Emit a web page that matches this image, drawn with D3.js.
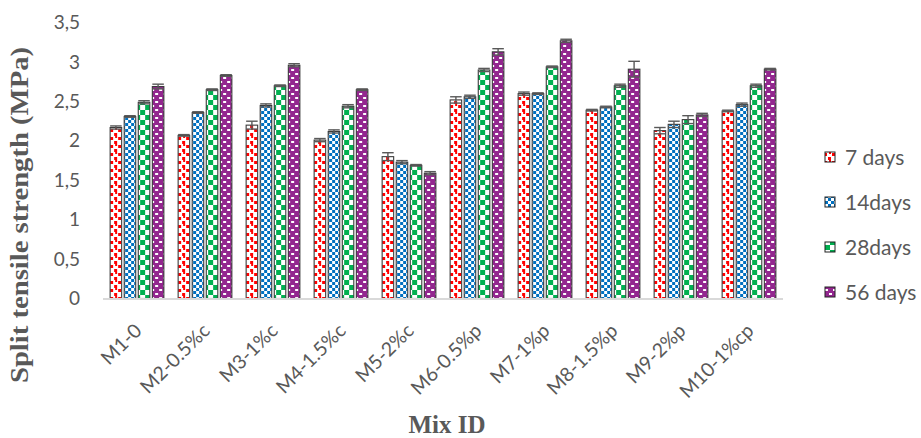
<!DOCTYPE html>
<html><head><meta charset="utf-8">
<script src="https://cdn.jsdelivr.net/npm/d3@7"></script>
<style>body{margin:0;background:#fff;}svg{display:block;}</style>
</head><body>
<script>
const categories = ["M1-0","M2-0.5%c","M3-1%c","M4-1.5%c","M5-2%c","M6-0.5%p","M7-1%p","M8-1.5%p","M9-2%p","M10-1%cp"];
const seriesNames = ["7 days","14days","28days","56 days"];
const days7  = [2.17,2.07,2.20,2.01,1.80,2.52,2.60,2.39,2.13,2.38];
const days14 = [2.31,2.36,2.45,2.12,1.73,2.56,2.60,2.43,2.21,2.46];
const days28 = [2.49,2.65,2.70,2.44,1.69,2.90,2.94,2.70,2.27,2.70];
const days56 = [2.69,2.83,2.96,2.65,1.59,3.13,3.27,2.91,2.33,2.91];
const err7  = [0.02,0.01,0.05,0.02,0.05,0.04,0.02,0.01,0.04,0.01];
const err14 = [0.01,0.01,0.02,0.02,0.02,0.02,0.01,0.01,0.04,0.02];
const err28 = [0.02,0.01,0.01,0.02,0.01,0.02,0.01,0.02,0.05,0.02];
const err56 = [0.03,0.01,0.02,0.01,0.02,0.04,0.02,0.10,0.02,0.01];
const yTicks = [0,0.5,1,1.5,2,2.5,3,3.5];

const values = [days7,days14,days28,days56];
const errors = [err7,err14,err28,err56];
const W=921,H=438;
const svg=d3.select("body").append("svg").attr("width",W).attr("height",H);
const defs=svg.append("defs");
const colors=["#ff0000","#0070c0","#00b050","#93278f"];

// patterns
function pat(id,size,bg){const p=defs.append("pattern").attr("id",id).attr("patternUnits","userSpaceOnUse").attr("width",size).attr("height",size);
 p.append("rect").attr("width",size).attr("height",size).attr("fill",bg);return p;}
let p0=pat("p0",8,"#fff");
[[0,1,3,3],[4,5,3,3],[5,0,2,2]].forEach(r=>p0.append("rect").attr("x",r[0]).attr("y",r[1]).attr("width",r[2]).attr("height",r[3]).attr("fill",colors[0]));
let p1=pat("p1",6,"#fff");
[[0,0,3,3],[3,3,3,3]].forEach(r=>p1.append("rect").attr("x",r[0]).attr("y",r[1]).attr("width",r[2]).attr("height",r[3]).attr("fill",colors[1]));
let p2=pat("p2",10,"#fff");
[[0,0,5,5],[5,5,5,5]].forEach(r=>p2.append("rect").attr("x",r[0]).attr("y",r[1]).attr("width",r[2]).attr("height",r[3]).attr("fill",colors[2]));
let p3=pat("p3",8,colors[3]);
[[1,1,3,2],[5,5,3,2]].forEach(r=>p3.append("rect").attr("x",r[0]).attr("y",r[1]).attr("width",r[2]).attr("height",r[3]).attr("fill","#fff"));

const x0=d3.scaleBand().domain(categories).range([103,783]).paddingInner(0.21).paddingOuter(0.105);
const x1=d3.scaleBand().domain(seriesNames).range([0,x0.bandwidth()]).paddingInner(0.18).paddingOuter(0);
const y=d3.scaleLinear().domain([0,3.5]).range([298.5,22.7]);

const tickFont="Lato";
// y axis labels
const yAxis=d3.axisLeft(y).tickValues(yTicks).tickSize(0).tickPadding(0).tickFormat(d=>String(d).replace(".",","));
const yg=svg.append("g").attr("transform","translate(80,0)").call(yAxis);
yg.select(".domain").remove();
yg.selectAll("text").attr("font-family",tickFont).attr("font-size",19).attr("fill","#595959");

// bars
const groups=svg.append("g").selectAll("g").data(categories).join("g").attr("transform",d=>`translate(${x0(d)},0)`);
seriesNames.forEach((s,si)=>{
  groups.append("rect")
   .attr("x",x1(s)).attr("width",x1.bandwidth())
   .attr("y",(d,i)=>y(values[si][i])).attr("height",(d,i)=>y(0)-y(values[si][i]))
   .attr("fill",`url(#p${si})`).attr("stroke","#3a3a3a").attr("stroke-width",1.1);
  // error bars
  const eg=groups.append("g").attr("stroke","#595959").attr("stroke-width",1.4);
  const cx=x1(s)+x1.bandwidth()/2, hw=x1.bandwidth()/2;
  eg.append("line").attr("x1",cx).attr("x2",cx).attr("y1",(d,i)=>y(values[si][i]+errors[si][i])).attr("y2",(d,i)=>y(values[si][i]-errors[si][i]));
  eg.append("line").attr("x1",cx-hw).attr("x2",cx+hw).attr("y1",(d,i)=>y(values[si][i]+errors[si][i])).attr("y2",(d,i)=>y(values[si][i]+errors[si][i]));
  eg.append("line").attr("x1",cx-hw).attr("x2",cx+hw).attr("y1",(d,i)=>y(values[si][i]-errors[si][i])).attr("y2",(d,i)=>y(values[si][i]-errors[si][i]));
});

// x axis
const xAxis=d3.axisBottom(x0).tickSize(0).tickPadding(0);
const xg=svg.append("g").attr("transform","translate(0,299)").call(xAxis);
xg.select(".domain").attr("stroke","#d9d9d9").attr("stroke-width",2).attr("d","M103,0H783");
xg.selectAll(".tick text").attr("font-family",tickFont).attr("font-size",19.5).attr("fill","#595959")
  .attr("text-anchor","end").attr("dy",0).attr("y",0).attr("transform","translate(6,33) rotate(-45)");

// legend
const lg=svg.append("g");
seriesNames.forEach((s,i)=>{
  const yy=157+45*i;
  lg.append("rect").attr("x",825).attr("y",yy-5).attr("width",10).attr("height",10).attr("fill",`url(#p${i})`).attr("stroke","#222").attr("stroke-width",1);
  lg.append("text").attr("x",845).attr("y",yy).attr("dy","0.36em").attr("font-family",tickFont).attr("font-size",21).attr("fill","#595959").text(s);
});

// titles
svg.append("text").attr("transform","translate(28,215) rotate(-90)").attr("text-anchor","middle")
  .attr("font-family","Liberation Serif").attr("font-weight","bold").attr("font-size",25).attr("fill","#595959")
  .attr("textLength",336).attr("lengthAdjust","spacingAndGlyphs").text("Split tensile strength (MPa)");
svg.append("text").attr("x",447).attr("y",433).attr("text-anchor","middle")
  .attr("font-family","Liberation Serif").attr("font-weight","bold").attr("font-size",25).attr("fill","#595959")
  .text("Mix ID");
</script>
</body></html>
